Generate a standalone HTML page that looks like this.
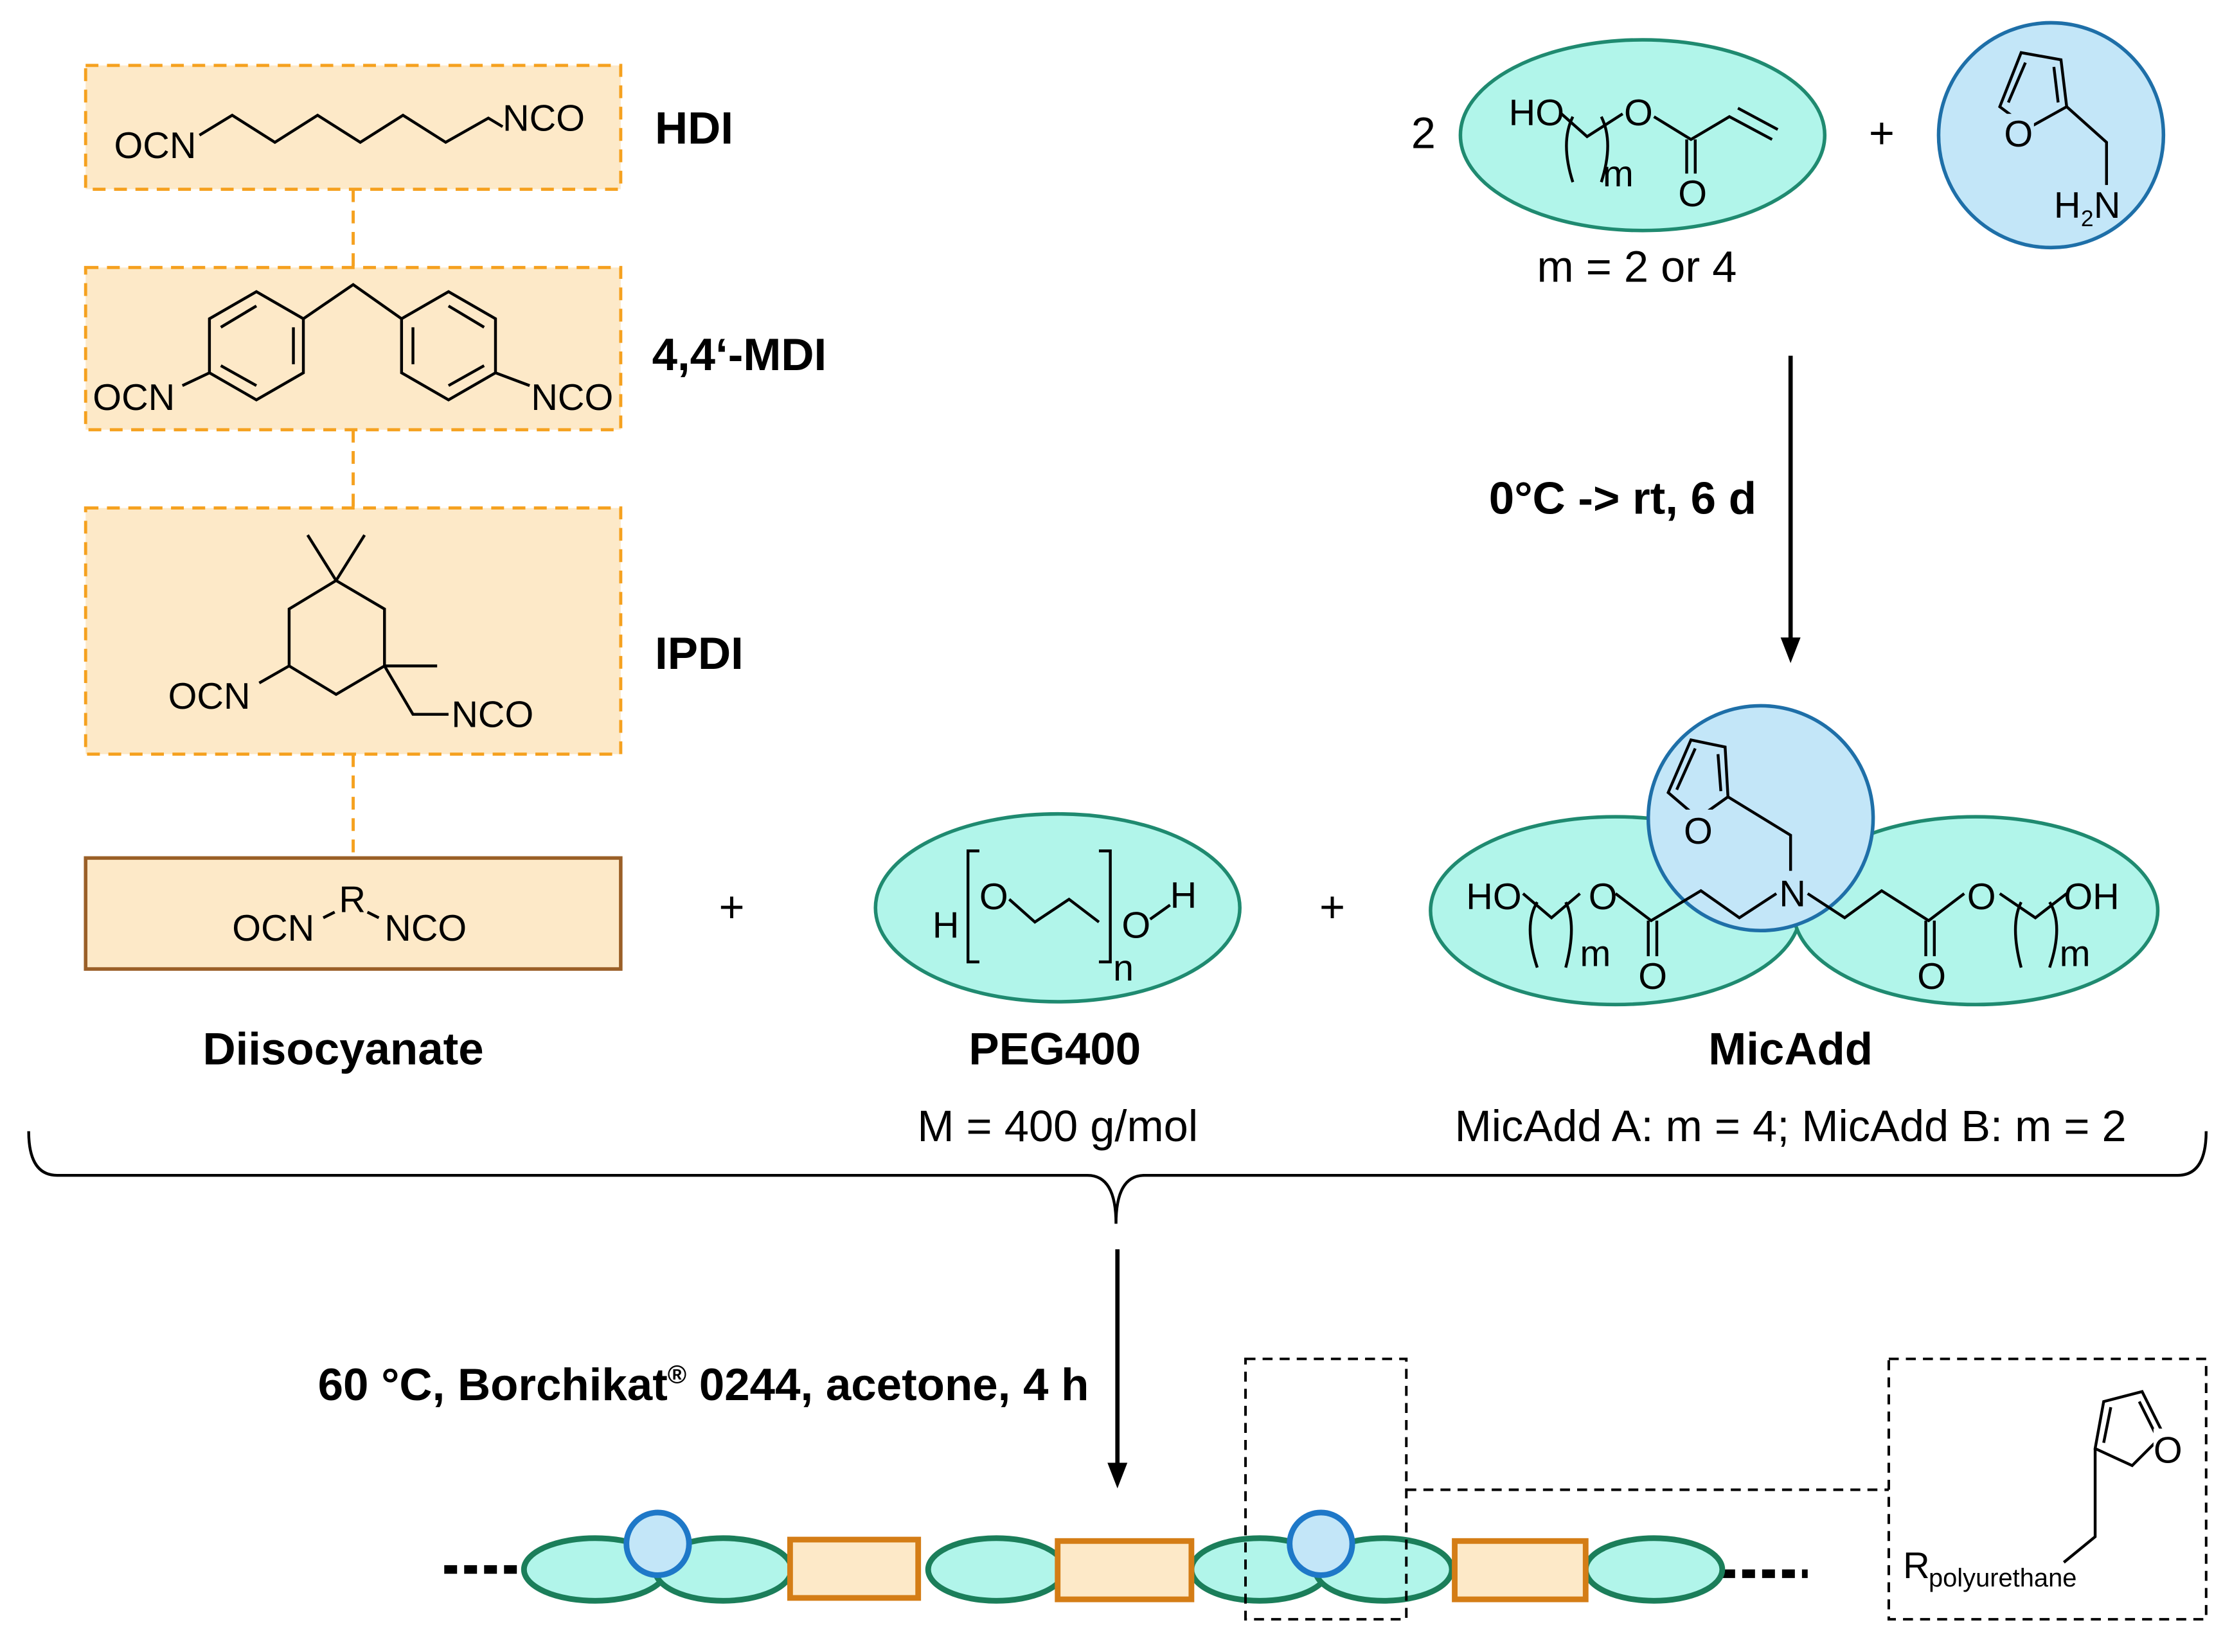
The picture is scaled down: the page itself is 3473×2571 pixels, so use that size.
<!DOCTYPE html>
<html><head><meta charset="utf-8"><style>
html,body{margin:0;padding:0;background:#fff;}
svg{display:block;}
text{font-family:"Liberation Sans",sans-serif;fill:#000;}
.b{font-weight:bold;font-size:32px;}
.m{font-size:26px;}
.l{font-size:31px;}
.bond{stroke:#000;stroke-width:2;fill:none;}
</style></head><body>
<svg width="3473" height="2571" viewBox="0 0 1568 1161" xmlns="http://www.w3.org/2000/svg">
<rect width="1568" height="1161" fill="#fff"/>
<g stroke="#f5a11f" stroke-width="2.2" stroke-dasharray="9,6" fill="#fde9c8">
<rect x="60" y="46" width="376" height="87"/>
<rect x="60" y="188" width="376" height="114"/>
<rect x="60" y="357" width="376" height="173"/>
<line x1="248" y1="133" x2="248" y2="188" fill="none"/>
<line x1="248" y1="302" x2="248" y2="357" fill="none"/>
<line x1="248" y1="530" x2="248" y2="603" fill="none"/>
</g>
<rect x="60" y="603" width="376" height="78" fill="#fde9c8" stroke="#9a5f27" stroke-width="2.5"/>
<text class="m" x="80" y="111">OCN</text>
<polyline class="bond" points="140,95 163,81 193,100 223,81 253,100 283,81 313,100 343,83 353,89"/>
<text class="m" x="353" y="92">NCO</text>
<text class="b" x="460" y="101">HDI</text>
<polygon class="bond" points="180,205 213,224 213,262 180,281 147,262 147,224"/>
<line class="bond" x1="155" y1="230" x2="180" y2="215"/><line class="bond" x1="155" y1="257" x2="180" y2="271"/><line class="bond" x1="206" y1="230" x2="206" y2="256"/>
<polygon class="bond" points="315,205 348,224 348,262 315,281 282,262 282,224"/>
<line class="bond" x1="290" y1="230" x2="290" y2="256"/><line class="bond" x1="315" y1="215" x2="340" y2="230"/><line class="bond" x1="315" y1="271" x2="340" y2="257"/>
<polyline class="bond" points="213,224 248,200 282,224"/>
<line class="bond" x1="147" y1="262" x2="128" y2="271"/>
<line class="bond" x1="348" y1="262" x2="372" y2="271"/>
<text class="m" x="65" y="288">OCN</text>
<text class="m" x="373" y="288">NCO</text>
<text class="b" x="458" y="260">4,4‘-MDI</text>
<polygon class="bond" points="236,408 270,428 270,468 236,488 203,468 203,428"/>
<line class="bond" x1="236" y1="408" x2="216" y2="376"/><line class="bond" x1="236" y1="408" x2="256" y2="376"/>
<line class="bond" x1="270" y1="468" x2="307" y2="468"/>
<polyline class="bond" points="270,468 290,502 315,502"/>
<line class="bond" x1="203" y1="468" x2="182" y2="480"/>
<text class="m" x="118" y="498">OCN</text>
<text class="m" x="317" y="511">NCO</text>
<text class="b" x="460" y="470">IPDI</text>
<text class="m" x="163" y="661">OCN</text>
<text class="m" x="238" y="641">R</text>
<line class="bond" x1="227" y1="645" x2="235" y2="641"/><line class="bond" x1="258" y1="641" x2="266" y2="645"/>
<text class="m" x="270" y="661">NCO</text>
<text class="b" x="241" y="748" text-anchor="middle">Diisocyanate</text>
<text class="l" x="514" y="648" text-anchor="middle">+</text>
<ellipse cx="743" cy="638" rx="128" ry="66" fill="#b1f5ea" stroke="#1f8a70" stroke-width="2.5"/>
<text class="m" x="655" y="659">H</text>
<polyline class="bond" points="688,598 680,598 680,676 688,676"/>
<text class="m" x="688" y="639">O</text>
<polyline class="bond" points="709,632 727,648 751,632 772,648"/>
<polyline class="bond" points="772,598 780,598 780,676 772,676"/>
<text class="m" x="788" y="659">O</text>
<line class="bond" x1="808" y1="646" x2="822" y2="636"/>
<text class="m" x="822" y="638">H</text>
<text class="m" x="782" y="689">n</text>
<text class="b" x="741" y="748" text-anchor="middle">PEG400</text>
<text class="l" x="743" y="802" text-anchor="middle">M = 400 g/mol</text>
<text class="l" x="936" y="648" text-anchor="middle">+</text>
<ellipse cx="1135" cy="640" rx="130" ry="66" fill="#b1f5ea" stroke="#1f8a70" stroke-width="2.5"/>
<ellipse cx="1388" cy="640" rx="128" ry="66" fill="#b1f5ea" stroke="#1f8a70" stroke-width="2.5"/>
<ellipse cx="1237" cy="575" rx="79" ry="79" fill="#c3e6f8" stroke="#1e6fa8" stroke-width="2.5"/>
<polygon class="bond" points="1172,557 1188,520 1212,525 1214,560 1193,575"/>
<line class="bond" x1="1178" y1="555" x2="1191" y2="526"/><line class="bond" x1="1207" y1="530" x2="1209" y2="556"/>
<rect x="1183" y="569" width="20" height="24" fill="#c3e6f8"/>
<text class="m" x="1183" y="593">O</text>
<polyline class="bond" points="1214,560 1258,587 1258,612"/>
<text class="m" x="1250" y="637">N</text>
<polyline class="bond" points="1248,628 1222,645 1195,626 1160,647 1135,628"/>
<polyline class="bond" points="1270,628 1296,645 1322,626 1355,647 1380,628"/>
<line class="bond" x1="1158" y1="647" x2="1158" y2="672"/><line class="bond" x1="1164" y1="647" x2="1164" y2="672"/>
<line class="bond" x1="1353" y1="647" x2="1353" y2="672"/><line class="bond" x1="1359" y1="647" x2="1359" y2="672"/>
<text class="m" x="1151" y="695">O</text>
<text class="m" x="1347" y="695">O</text>
<text class="m" x="1030" y="639">HO</text>
<text class="m" x="1116" y="639">O</text>
<path class="bond" d="M1080,634 Q1070,650 1080,680 M1100,634 Q1108,650 1100,680"/>
<polyline class="bond" points="1070,628 1090,645 1110,628"/>
<text class="m" x="1110" y="679">m</text>
<text class="m" x="1382" y="639">O</text>
<text class="m" x="1450" y="639">OH</text>
<path class="bond" d="M1420,634 Q1412,650 1420,680 M1440,634 Q1450,650 1440,680"/>
<polyline class="bond" points="1405,628 1430,645 1452,628"/>
<text class="m" x="1447" y="679">m</text>
<text class="b" x="1258" y="748" text-anchor="middle">MicAdd</text>
<text class="l" x="1258" y="802" text-anchor="middle">MicAdd A: m = 4; MicAdd B: m = 2</text>
<text class="l" x="1000" y="104" text-anchor="middle">2</text>
<ellipse cx="1154" cy="95" rx="128" ry="67" fill="#b1f5ea" stroke="#1f8a70" stroke-width="2.5"/>
<text class="m" x="1060" y="88">HO</text>
<path class="bond" d="M1105,82 Q1096,100 1105,128 M1125,82 Q1134,100 1125,128"/>
<polyline class="bond" points="1097,80 1115,96 1140,80"/>
<text class="m" x="1141" y="88">O</text>
<polyline class="bond" points="1162,82 1188,98 1215,82 1245,98"/>
<line class="bond" x1="1221" y1="76" x2="1249" y2="91"/>
<line class="bond" x1="1185" y1="98" x2="1185" y2="122"/><line class="bond" x1="1191" y1="98" x2="1191" y2="122"/>
<text class="m" x="1179" y="145">O</text>
<text class="m" x="1126" y="131">m</text>
<text class="l" x="1322" y="104" text-anchor="middle">+</text>
<ellipse cx="1441" cy="95" rx="79" ry="79" fill="#c3e6f8" stroke="#1e6fa8" stroke-width="2.5"/>
<polygon class="bond" points="1405,75 1420,37 1448,42 1452,75 1425,90"/>
<line class="bond" x1="1411" y1="72" x2="1423" y2="44"/><line class="bond" x1="1443" y1="47" x2="1446" y2="72"/>
<rect x="1409" y="80" width="20" height="24" fill="#c3e6f8"/>
<text class="m" x="1408" y="103">O</text>
<polyline class="bond" points="1452,75 1480,100 1480,130"/>
<text class="m" x="1443" y="153">H</text><text style="font-size:16px" x="1462" y="159">2</text><text class="m" x="1471" y="153">N</text>
<text class="l" x="1150" y="198" text-anchor="middle">m = 2 or 4</text>
<line x1="1258" y1="250" x2="1258" y2="450" stroke="#000" stroke-width="3"/>
<polygon points="1251,448 1265,448 1258,466" fill="#000"/>
<text class="b" x="1234" y="361" text-anchor="end">0°C -&gt; rt, 6 d</text>
<path d="M20,795 Q20,826 40,826 L764,826 Q784,826 784,860 Q784,826 804,826 L1530,826 Q1550,826 1550,795" fill="none" stroke="#000" stroke-width="2"/>
<line x1="785" y1="878" x2="785" y2="1030" stroke="#000" stroke-width="3"/>
<polygon points="778,1028 792,1028 785,1046" fill="#000"/>
<text class="b" x="765" y="984" text-anchor="end">60 °C, Borchikat<tspan style="font-size:18px" dy="-12">®</tspan><tspan dy="12"> 0244, acetone, 4 h</tspan></text>
<line x1="312" y1="1103" x2="368" y2="1103" stroke="#000" stroke-width="6" stroke-dasharray="9,5"/>
<line x1="1210" y1="1106" x2="1270" y2="1106" stroke="#000" stroke-width="6" stroke-dasharray="9,5"/>
<g fill="#b1f5ea" stroke="#1b7e5a" stroke-width="4">
<ellipse cx="418" cy="1103" rx="50" ry="22"/>
<ellipse cx="508" cy="1103" rx="48" ry="22"/>
<ellipse cx="700" cy="1103" rx="48" ry="22"/>
<ellipse cx="885" cy="1103" rx="48" ry="22"/>
<ellipse cx="972" cy="1103" rx="48" ry="22"/>
<ellipse cx="1162" cy="1103" rx="48" ry="22"/>
</g>
<g fill="#c3e6f8" stroke="#1e78c8" stroke-width="4">
<circle cx="462" cy="1085" r="22"/>
<circle cx="928" cy="1085" r="22"/>
</g>
<g fill="#fde9c8" stroke="#d47d16" stroke-width="4">
<rect x="555" y="1082" width="90" height="41"/>
<rect x="743" y="1083" width="94" height="41"/>
<rect x="1022" y="1083" width="92" height="41"/>
</g>
<g fill="none" stroke="#000" stroke-width="1.8" stroke-dasharray="7,5">
<rect x="875" y="955" width="113" height="183"/>
<line x1="988" y1="1047" x2="1327" y2="1047"/>
<rect x="1327" y="955" width="223" height="183"/>
</g>
<polygon class="bond" points="1472,1018 1478,985 1505,978 1520,1008 1498,1030"/>
<line class="bond" x1="1478" y1="1014" x2="1483" y2="989"/><line class="bond" x1="1503" y1="985" x2="1514" y2="1007"/>
<rect x="1513" y="1004" width="20" height="24" fill="#fff"/>
<text class="m" x="1513" y="1028">O</text>
<polyline class="bond" points="1472,1018 1472,1045 1472,1080 1450,1098"/>
<text class="m" x="1337" y="1109">R</text><text style="font-size:18px" x="1355" y="1115">polyurethane</text>
</svg>
</body></html>
